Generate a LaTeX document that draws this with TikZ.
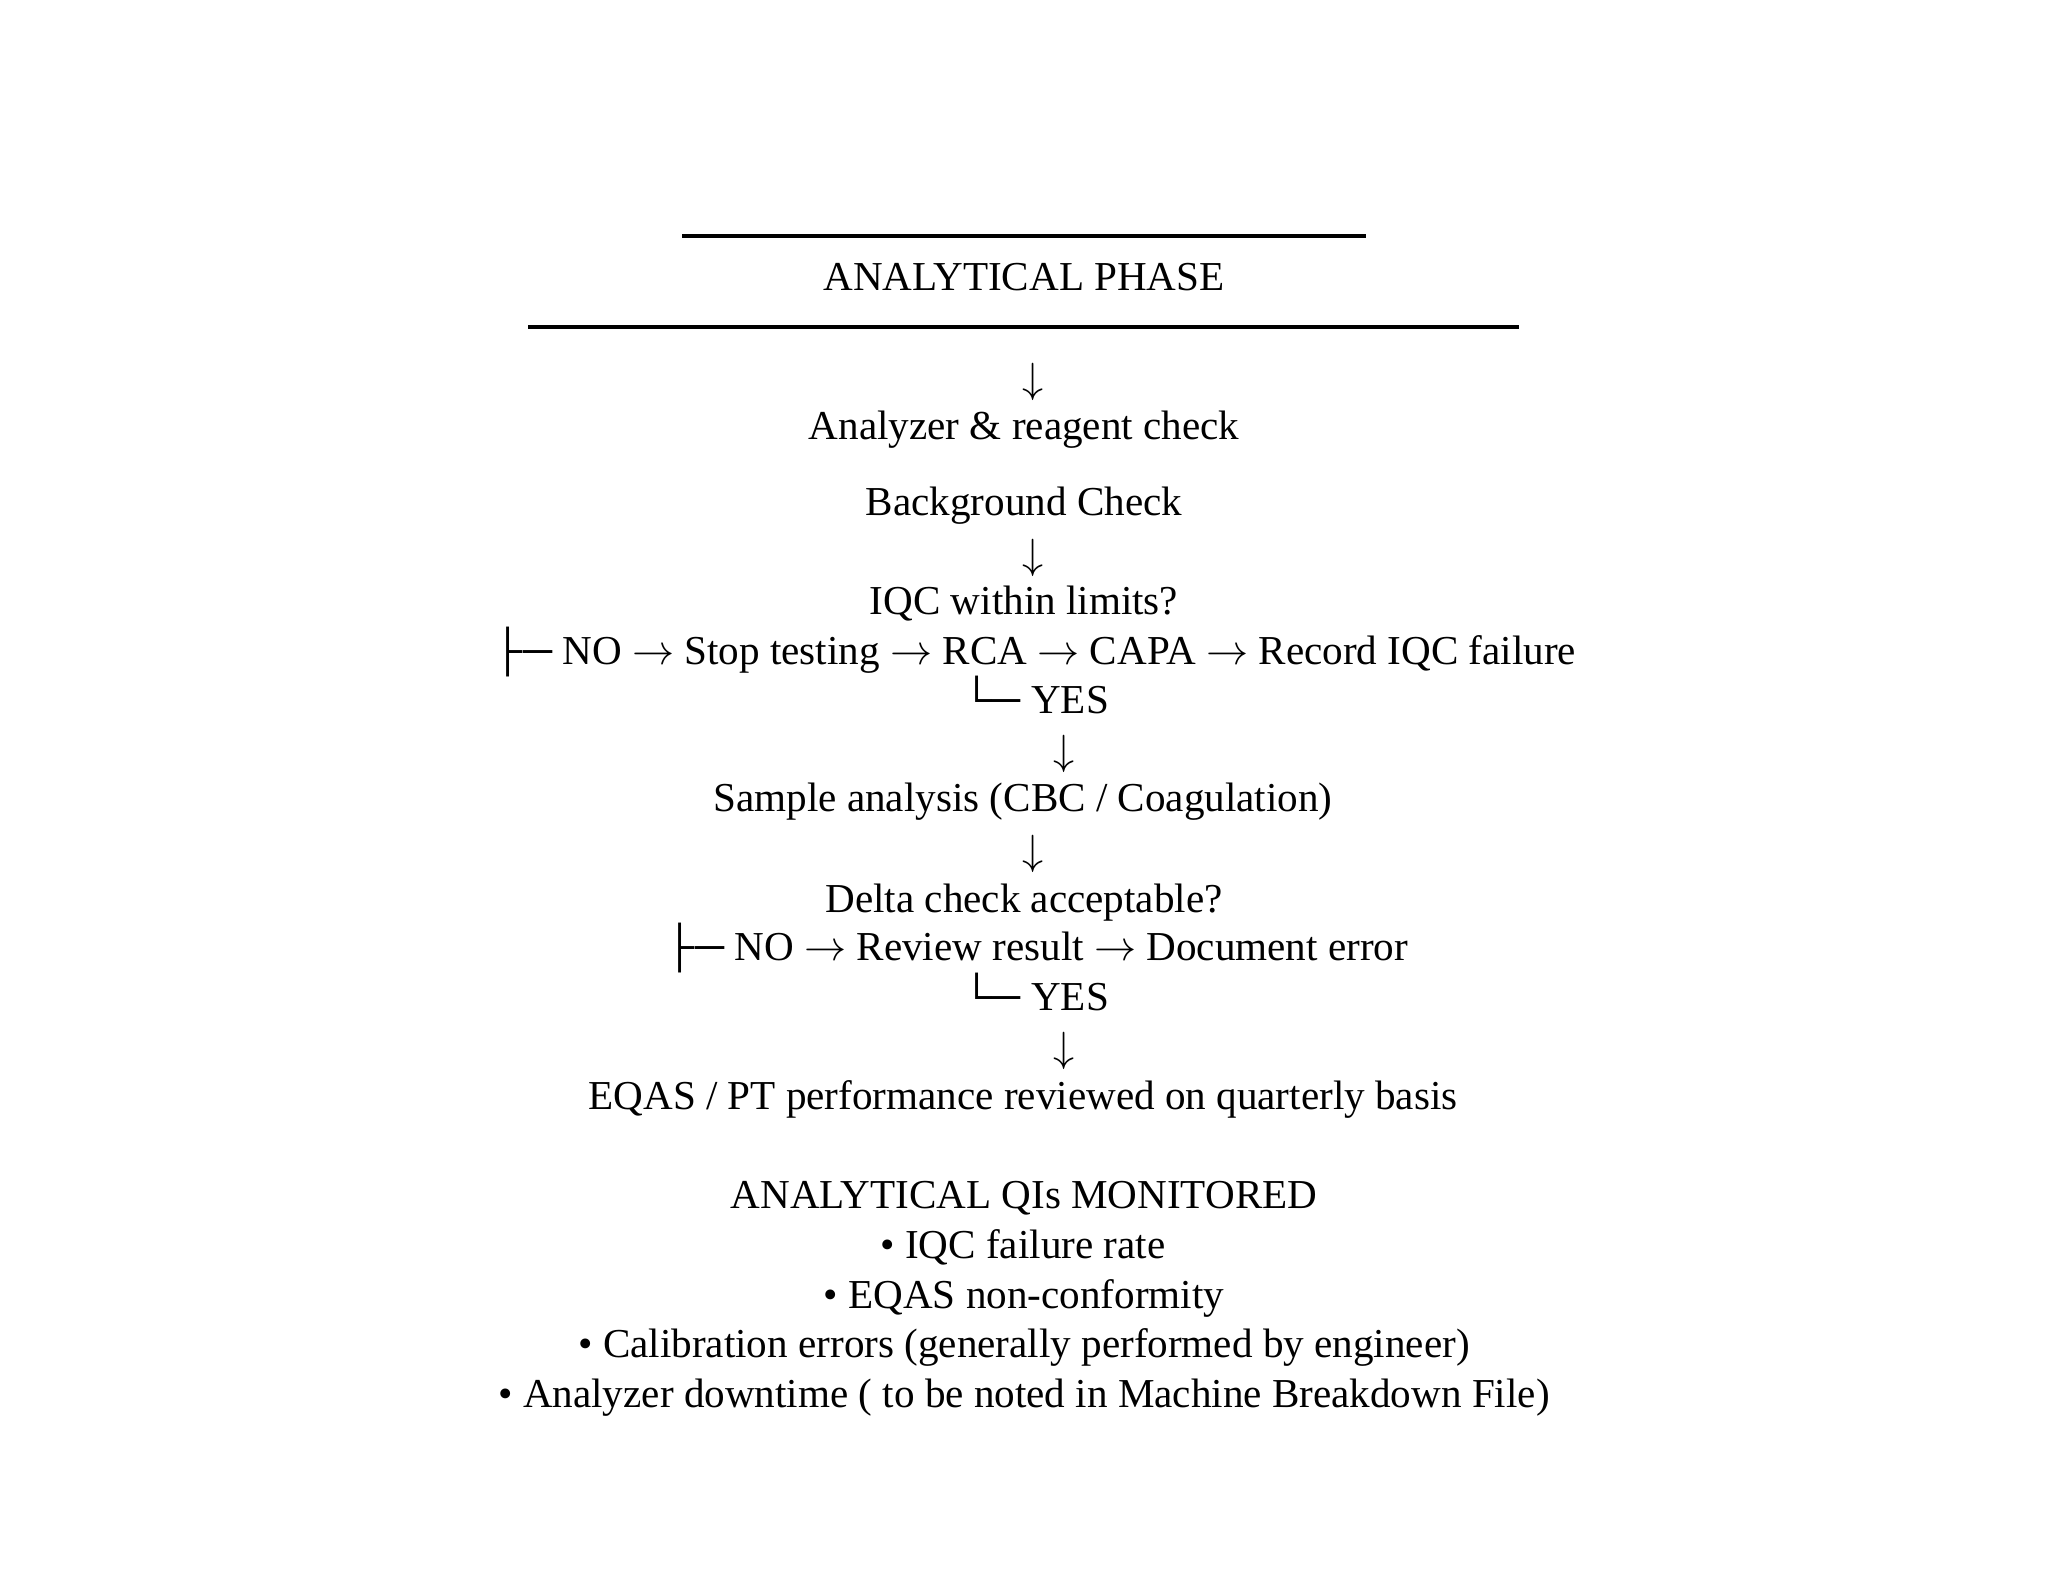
\documentclass[tikz,border=0pt]{standalone}
\usepackage{fontspec}
\setmainfont{Liberation Serif}
\usepackage{tikz}

\newcommand{\ra}{$\rightarrow$}
\newcommand{\da}{$\downarrow$}

\begin{document}
\begin{tikzpicture}[txt/.style={anchor=mid, inner sep=0pt, font=\fontsize{11.7}{14}\selectfont}]
\useasboundingbox (0,0) rectangle (20.48,15.82);

% Title with rules
\coordinate (topL) at (6.82,13.46);
\coordinate (topR) at (13.66,13.46);
\coordinate (botL) at (5.28,12.55);
\coordinate (botR) at (15.19,12.55);
\draw[line width=0.9pt] (topL) -- (topR);
\node[txt] (title) at (10.24,13.00) {ANALYTICAL PHASE};
\draw[line width=1.3pt] (botL) -- (botR);

% Flow
\node[txt] (d1) at (10.33,11.98) {\da};
\node[txt] (reagent) at (10.24,11.51) {Analyzer \& reagent check};
\node[txt] (bg) at (10.24,10.75) {Background Check};
\node[txt] (d2) at (10.33,10.22) {\da};
\node[txt] (iqc) at (10.24,9.76) {IQC within limits?};
\node[txt] (iqcno) at (10.35,9.26) {├─ NO \ra{} Stop testing \ra{} RCA \ra{} CAPA \ra{} Record IQC failure};
\node[txt, anchor=mid west] (iqcyes) at (9.62,8.77) {└─ YES};
\node[txt] (d3) at (10.64,8.26) {\da};
\node[txt] (sample) at (10.23,7.79) {Sample analysis (CBC / Coagulation)};
\node[txt] (d4) at (10.33,7.26) {\da};
\node[txt] (delta) at (10.24,6.78) {Delta check acceptable?};
\node[txt] (deltano) at (10.37,6.30) {├─ NO \ra{} Review result \ra{} Document error};
\node[txt, anchor=mid west] (deltayes) at (9.62,5.80) {└─ YES};
\node[txt] (d5) at (10.64,5.29) {\da};
\node[txt] (eqas) at (10.23,4.81) {EQAS / PT performance reviewed on quarterly basis};

% Indicators
\node[txt] (qis) at (10.24,3.82) {ANALYTICAL QIs MONITORED};
\node[txt] (qi1) at (10.23,3.32) {• IQC failure rate};
\node[txt] (qi2) at (10.24,2.82) {• EQAS non-conformity};
\node[txt] (qi3) at (10.24,2.33) {• Calibration errors (generally performed by engineer)};
\node[txt] (qi4) at (10.24,1.83) {• Analyzer downtime ( to be noted in Machine Breakdown File)};
\end{tikzpicture}
\end{document}
